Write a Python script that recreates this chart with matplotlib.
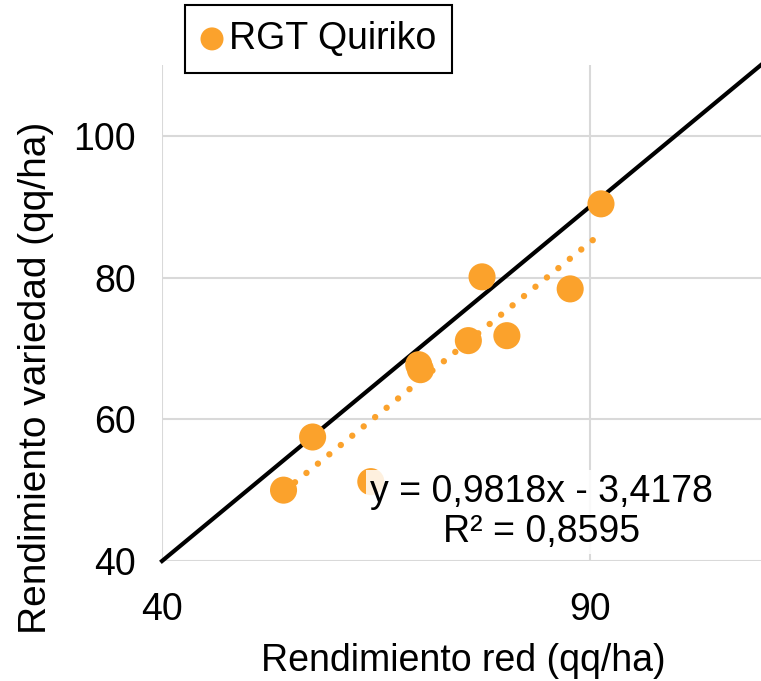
import numpy as np
import matplotlib.pyplot as plt

plt.rcParams['font.family'] = ['Liberation Sans', 'DejaVu Sans']

# readings from the chart
red = [54.2, 57.6, 64.4, 70.0, 70.2, 75.8, 77.4, 80.3, 87.7, 91.3]
variedad = [50.0, 57.5, 51.2, 67.7, 67.0, 71.1, 80.1, 71.8, 78.4, 90.4]
pendiente = 0.9818
ordenada = -3.4178
r2 = 0.8595
serie = 'RGT Quiriko'
naranja = '#FBA22C'

fig = plt.figure(figsize=(7.61, 6.81), dpi=100)
ax = fig.add_axes([0.2129, 0.1762, 0.7871, 0.7284])

ax.set_xlim(40, 110)
ax.set_ylim(40, 110)
ax.set_xticks([40, 90])
ax.set_yticks([40, 60, 80, 100])
ax.grid(True, color='#D9D9D9', linewidth=1.5, zorder=0)
for s in ax.spines.values():
    s.set_visible(False)
ax.tick_params(length=0, labelsize=27)
ax.tick_params(axis='x', pad=22)
ax.tick_params(axis='y', pad=19)

# 1:1 line
ax.plot([40, 110], [40, 110], color='black', linewidth=3, zorder=2, clip_on=False)

ax.scatter(red, variedad, s=380, color=naranja, edgecolors='none', zorder=3, label=serie)

# linear trend
xt = np.array([min(red), max(red)])
ax.plot(xt, pendiente * xt + ordenada, color=naranja, linestyle=(0, (0.01, 2.3)),
        linewidth=4.6, dash_capstyle='round', zorder=3)

txt = 'y = {:.4f}x - {:.4f}\nR² = {:.4f}'.format(pendiente, -ordenada, r2).replace('.', ',')
ax.text(0.633, 0.099, txt, transform=ax.transAxes, ha='center', va='center', fontsize=27,
        linespacing=1.12, zorder=4,
        bbox=dict(facecolor='white', edgecolor='none', alpha=0.85, pad=3))

ax.set_xlabel('Rendimiento red (qq/ha)', fontsize=27)
ax.xaxis.set_label_coords(0.503, -0.165)
ax.set_ylabel('Rendimiento variedad (qq/ha)', fontsize=28)
ax.yaxis.set_label_coords(-0.18, 0.37)

leg = fig.legend(loc='upper left', bbox_to_anchor=(185 / 761, 1 - 5 / 681), fontsize=27,
                 frameon=True, fancybox=False, edgecolor='black', framealpha=1,
                 handlelength=0.6, handletextpad=0.15, borderpad=0.42, markerscale=0.85,
                 borderaxespad=0)
leg.get_frame().set_linewidth(1.5)

fig.savefig('out.png', dpi=100)
